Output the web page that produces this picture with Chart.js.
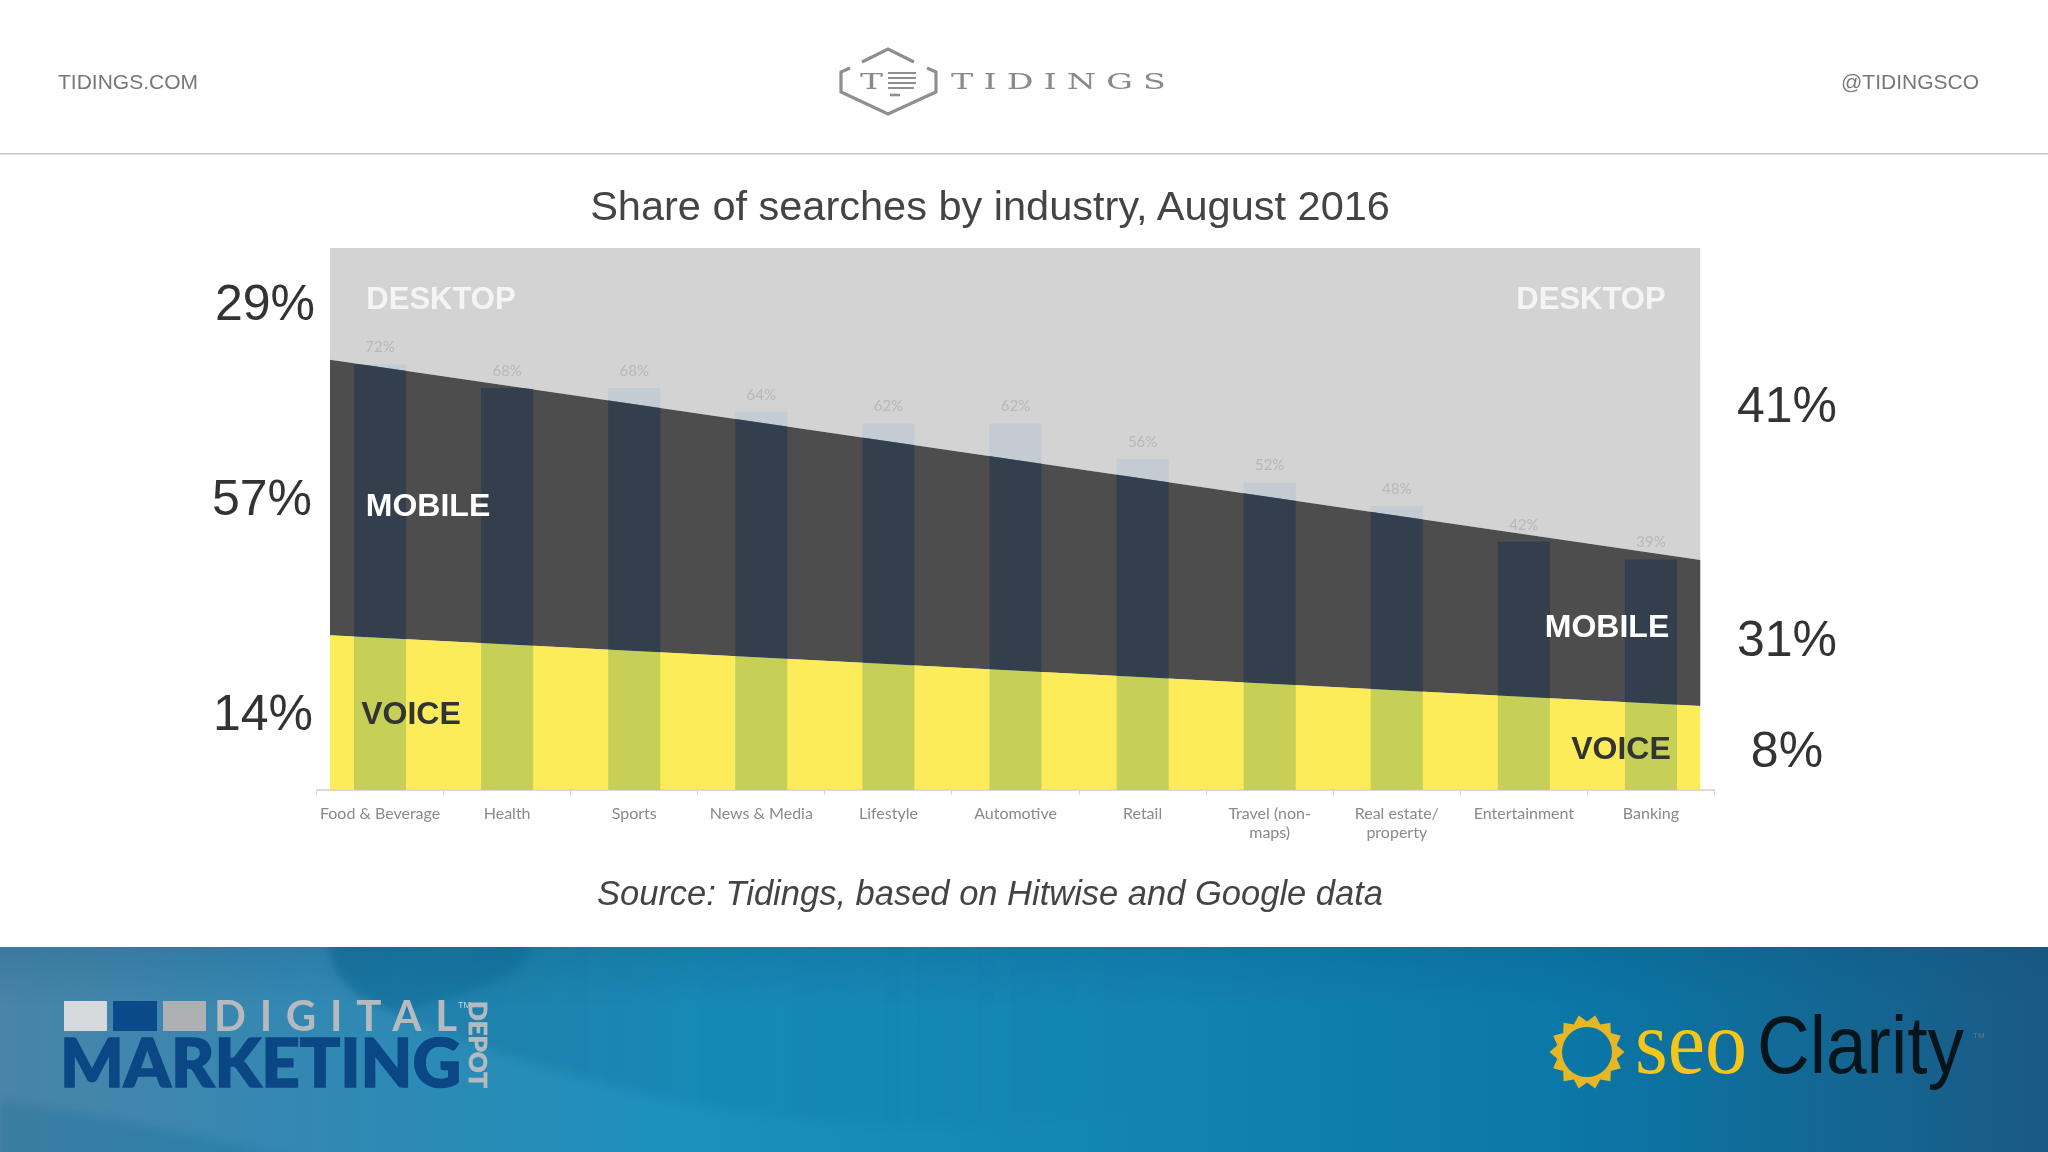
<!DOCTYPE html>
<html>
<head>
<meta charset="utf-8">
<script src="https://cdn.jsdelivr.net/npm/chart.js@4"></script>
<style>
  html, body { margin: 0; padding: 0; background: #fff; width: 2048px; height: 1152px; overflow: hidden; }
  body { position: relative; font-family: "Liberation Sans", sans-serif; filter: blur(0.6px); }
  #canvas { position: absolute; left: 0; top: 0; }
  .t { position: absolute; white-space: nowrap; transform: translate(-50%, -50%); }
  svg { position: absolute; left: 0; top: 0; }
</style>
</head>
<body>
<canvas id="canvas" width="2048" height="1152"></canvas>

<!-- header rule and Tidings logo -->
<svg width="2048" height="160">
  <rect x="0" y="153" width="2048" height="1.5" fill="#c6c6c6"/>
  <g fill="none" stroke="#8f8f8f" stroke-width="3.2">
    <path d="M862 62 L888 49 L914 62"/>
    <path d="M850 68 L841 72 L841 92 L888 114 L936 92 L936 72 L927 68"/>
  </g>
  <g stroke="#8f8f8f" stroke-width="2.2">
    <path d="M888 73H916M888 78H916M888 83H916M888 88H914"/>
    <path d="M890 95H900" stroke-width="2.6"/>
  </g>
  <text x="860" y="89" fill="#8a8a8a" font-family="DejaVu Serif" font-size="23" textLength="23" lengthAdjust="spacingAndGlyphs">T</text>
  <text transform="translate(951 89) scale(1.45 1)" fill="#8a8a8a" font-family="DejaVu Serif" font-size="23" letter-spacing="7">TIDINGS</text>
</svg>

<!-- footer banner -->
<svg width="2048" height="1152" style="pointer-events:none">
  <defs>
    <linearGradient id="banner" x1="0" x2="1" y1="0" y2="0">
      <stop offset="0" stop-color="#4a84a9"/>
      <stop offset="0.14" stop-color="#3488b2"/>
      <stop offset="0.34" stop-color="#1b90bd"/>
      <stop offset="0.6" stop-color="#1181b0"/>
      <stop offset="0.76" stop-color="#0a78a8"/>
      <stop offset="1" stop-color="#1a5a84"/>
    </linearGradient>
    <linearGradient id="fade" gradientUnits="userSpaceOnUse" x1="500" x2="1150" y1="0" y2="0">
      <stop offset="0" stop-color="#0d5f8a" stop-opacity="0.22"/>
      <stop offset="1" stop-color="#0d5f8a" stop-opacity="0"/>
    </linearGradient>
    <linearGradient id="topShade" x1="0" x2="0" y1="0" y2="1">
      <stop offset="0" stop-color="#0a4f78" stop-opacity="0.2"/>
      <stop offset="1" stop-color="#0a4f78" stop-opacity="0"/>
    </linearGradient>
    <filter id="soft"><feGaussianBlur stdDeviation="4"/></filter>
    <clipPath id="bannerClip"><rect x="0" y="947" width="2048" height="205"/></clipPath>
  </defs>
  <rect x="0" y="947" width="2048" height="205" fill="url(#banner)"/>
  <g clip-path="url(#bannerClip)">
    <path d="M328 930 L328 947 C335 985 360 1000 400 1015 C440 1000 525 985 533 947 L533 930 Z" fill="#0d5f8a" fill-opacity="0.45" filter="url(#soft)"/>
    <path d="M400 1015 C470 1045 600 1092 760 1115 C900 1132 1050 1125 1160 1100 L1160 930 L533 930 L533 947 C525 985 440 1000 400 1015 Z" fill="url(#fade)" filter="url(#soft)"/>
    <path d="M0 1100 C90 1112 190 1135 300 1160 L0 1160 Z" fill="#0d5f8a" fill-opacity="0.2" filter="url(#soft)"/>
    <rect x="0" y="947" width="2048" height="60" fill="url(#topShade)"/>
  </g>

  <!-- Digital Marketing Depot logo -->
  <rect x="64" y="1001" width="43" height="30" fill="#d6d9db"/>
  <rect x="113" y="1001" width="44" height="30" fill="#0b4a8a"/>
  <rect x="163" y="1001" width="43" height="30" fill="#aeb1b4"/>
  <text x="214" y="1031" fill="#b4babd" font-family="Lato" font-weight="700" font-size="42" textLength="243">DIGITAL</text>
  <text x="458" y="1008" fill="#d0d4d6" font-size="9">TM</text>
  <text x="60" y="1087" fill="#0b4784" stroke="#0b4784" stroke-width="1.6" font-family="Lato" font-weight="900" font-size="66" textLength="401" lengthAdjust="spacingAndGlyphs">MARKETING</text>
  <text transform="translate(469 1001) rotate(90)" fill="#b4babd" stroke="#b4babd" stroke-width="0.8" font-family="Lato" font-weight="900" font-size="24" textLength="87" lengthAdjust="spacingAndGlyphs">DEPOT</text>

  <!-- seoClarity logo -->
  <path id="gear" fill="#e6b724" fill-rule="evenodd" d=""/>
  <text x="1635" y="1073" fill="#f5c518" font-family="Liberation Serif" font-size="90" textLength="112" lengthAdjust="spacingAndGlyphs">seo</text>
  <text x="1757" y="1073" fill="#06141c" font-family="Liberation Sans" font-size="82" textLength="207" lengthAdjust="spacingAndGlyphs">Clarity</text>
  <text x="1973" y="1038" fill="#5d7f93" font-size="8">TM</text>
</svg>

<script>
const categories = [
  "Food & Beverage", "Health", "Sports", "News & Media", "Lifestyle", "Automotive",
  "Retail", ["Travel (non-", "maps)"], ["Real estate/", "property"], "Entertainment", "Banking",
];
const barValues = [72, 68, 68, 64, 62, 62, 56, 52, 48, 42, 39];

// the three bands run straight from the left edge to the right edge
const bandEdges = [-0.394, 10.39];
const voiceTop = [26.2, 14.2];
const mobileTop = [72.8, 38.9];
const desktopTop = [91.7, 91.7];

const leftShares = ["29%", "57%", "14%"];
const rightShares = ["41%", "31%", "8%"];
const bandNames = ["DESKTOP", "MOBILE", "VOICE"];

const title = "Share of searches by industry, August 2016";
const source = "Source: Tidings, based on Hitwise and Google data";

function addText(text, x, y, size, color, extra) {
  const el = document.createElement("div");
  el.className = "t";
  el.textContent = text;
  el.style.left = x + "px";
  el.style.top = y + "px";
  el.style.fontSize = size + "px";
  el.style.color = color;
  if (extra) Object.assign(el.style, extra);
  document.body.appendChild(el);
}

addText("TIDINGS.COM", 128, 82, 21, "#777");
addText("@TIDINGSCO", 1910, 82, 21, "#777");
addText(title, 990, 206, 41.5, "#444");
addText(source, 990, 893, 34.5, "#444", { fontStyle: "italic" });

[303, 498, 713].forEach((y, i) => addText(leftShares[i], [265, 262, 263][i], y, 50, "#333"));
[405, 639, 750].forEach((y, i) => addText(rightShares[i], 1787, y, 50, "#333"));

const labelStyle = { fontWeight: "bold" };
addText(bandNames[0], 441, 299, 31, "#f4f4f4", labelStyle);
addText(bandNames[0], 1591, 299, 31, "#f4f4f4", labelStyle);
addText(bandNames[1], 428, 505, 32, "#fff", labelStyle);
addText(bandNames[1], 1607, 626, 32, "#fff", labelStyle);
addText(bandNames[2], 411, 713, 32, "#333", labelStyle);
addText(bandNames[2], 1621, 748, 32, "#333", labelStyle);

// wobbly ring for the seoClarity mark
let gear = "";
for (let i = 0; i < 28; i++) {
  const a = (i / 28) * Math.PI * 2;
  const r = i % 2 ? 30.5 : 37.5;
  gear += (i ? "L" : "M") + (1587 + r * Math.cos(a)).toFixed(1) + " " + (1052 + r * Math.sin(a)).toFixed(1);
}
gear += "Z M1612 1052 A25 25 0 1 0 1562 1052 A25 25 0 1 0 1612 1052 Z";
document.getElementById("gear").setAttribute("d", gear);

const toPoints = (ys) => ys.map((y, i) => ({ x: bandEdges[i], y: y }));

const barLabels = {
  id: "barLabels",
  afterDatasetsDraw(chart) {
    const { ctx } = chart;
    const meta = chart.getDatasetMeta(0);
    ctx.save();
    ctx.font = '15px Lato';
    ctx.fillStyle = "#b8b8b8";
    ctx.textAlign = "center";
    ctx.textBaseline = "middle";
    meta.data.forEach((bar, i) => {
      ctx.fillText(barValues[i] + "%", bar.x, bar.y - 17);
    });
    ctx.restore();
  },
};

const band = (ys, color, fill) => ({
  type: "line",
  data: toPoints(ys),
  xAxisID: "xBand",
  backgroundColor: color,
  borderColor: "transparent",
  borderWidth: 0,
  pointRadius: 0,
  tension: 0,
  fill: fill,
  order: 1,
});

new Chart(document.getElementById("canvas").getContext("2d"), {
  data: {
    labels: categories,
    datasets: [
      {
        type: "bar",
        data: barValues,
        backgroundColor: "rgb(43,143,240)",
        categoryPercentage: 1,
        barPercentage: 0.41,
        grouped: false,
        order: 2,
      },
      band(voiceTop, "rgba(252,230,35,0.75)", "origin"),
      band(mobileTop, "rgba(52,52,52,0.88)", "-1"),
      band(desktopTop, "rgba(208,208,209,0.93)", "-1"),
    ],
  },
  plugins: [barLabels],
  options: {
    responsive: false,
    devicePixelRatio: 1,
    animation: false,
    layout: { padding: { left: 316.5, right: 333.5, top: 248, bottom: 302 } },
    plugins: { legend: { display: false }, tooltip: { enabled: false } },
    scales: {
      x: {
        offset: true,
        afterFit(scale) { scale.height = 60; },
        grid: { drawOnChartArea: false, color: "#d9d9d9", tickLength: 5 },
        border: { color: "#d9d9d9", width: 2 },
        ticks: {
          color: "#8a8a8a",
          font: { family: "Lato", size: 16, lineHeight: 1.2 },
          padding: 9,
          maxRotation: 0,
          autoSkip: false,
        },
      },
      xBand: { type: "linear", min: -0.5, max: 10.5, display: false },
      y: { min: 0, max: 91.7, display: false },
    },
  },
});
</script>
</body>
</html>
